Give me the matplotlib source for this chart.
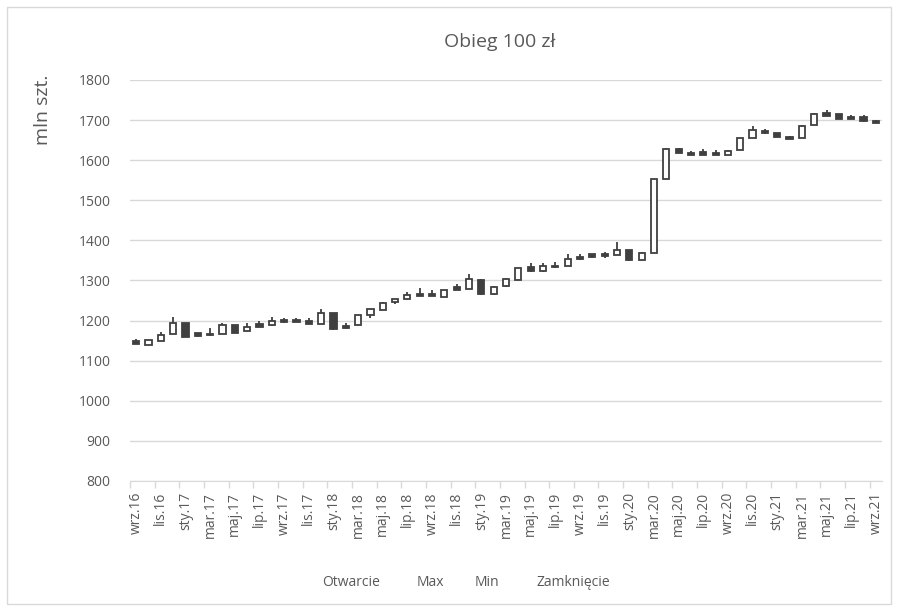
import numpy as np
import matplotlib
matplotlib.use("Agg")
import matplotlib.pyplot as plt
from matplotlib.patches import Rectangle

plt.rcParams["font.family"] = ["Open Sans", "DejaVu Sans"]
GRAY = "#595959"; INK = "#404040"; GRID = "#d9d9d9"

# monthly categories wrz.16 .. wrz.21
MONTHS = ["sty", "lut", "mar", "kwi", "maj", "cze", "lip", "sie", "wrz", "paź", "lis", "gru"]
labels = [f"{MONTHS[(8 + i) % 12]}.{16 + (8 + i) // 12}" for i in range(61)]

# mln szt.
open_ = [1148, 1140, 1150, 1167, 1193, 1168, 1167, 1166, 1189, 1175,
         1191, 1188, 1202, 1202, 1199, 1191, 1218, 1187, 1190, 1214,
         1226, 1246, 1253, 1267, 1267, 1260, 1284, 1278, 1302, 1266,
         1285, 1300, 1334, 1323, 1337, 1336, 1359, 1365, 1367, 1363,
         1375, 1352, 1369, 1554, 1629, 1618, 1620, 1619, 1614, 1626,
         1655, 1673, 1667, 1657, 1655, 1688, 1717, 1715, 1708, 1707,
         1698]
high = [1153, 1151, 1171, 1208, 1194, 1170, 1181, 1195, 1190, 1193,
        1198, 1210, 1207, 1207, 1206, 1229, 1219, 1193, 1215, 1229,
        1246, 1254, 1272, 1281, 1276, 1277, 1292, 1316, 1303, 1285,
        1305, 1332, 1343, 1344, 1345, 1366, 1366, 1367, 1371, 1396,
        1377, 1370, 1553, 1630, 1630, 1624, 1628, 1626, 1625, 1656,
        1685, 1679, 1668, 1661, 1687, 1717, 1725, 1716, 1713, 1713,
        1699]
low = [1141, 1140, 1150, 1167, 1158, 1160, 1162, 1166, 1169, 1175,
       1183, 1187, 1195, 1196, 1191, 1191, 1177, 1180, 1190, 1206,
       1226, 1242, 1253, 1261, 1261, 1260, 1276, 1278, 1265, 1265,
       1284, 1300, 1322, 1322, 1332, 1336, 1352, 1357, 1357, 1363,
       1349, 1351, 1368, 1554, 1617, 1613, 1613, 1613, 1613, 1626,
       1655, 1666, 1657, 1653, 1655, 1688, 1709, 1702, 1702, 1696,
       1692]
close = [1142, 1151, 1164, 1195, 1159, 1161, 1163, 1188, 1170, 1185,
         1184, 1198, 1196, 1197, 1192, 1218, 1178, 1181, 1214, 1228,
         1245, 1253, 1263, 1262, 1262, 1276, 1277, 1304, 1266, 1284,
         1304, 1332, 1323, 1336, 1333, 1354, 1353, 1358, 1361, 1375,
         1350, 1368, 1553, 1629, 1618, 1614, 1614, 1614, 1624, 1655,
         1675, 1667, 1658, 1654, 1686, 1716, 1710, 1703, 1703, 1697,
         1693]

fig = plt.figure(figsize=(8.98, 6.11), dpi=100)
ax = fig.add_axes([0.1448, 0.2128, 0.8374, 0.6563])

x = np.arange(len(labels))
w = 0.5
for xi, o, h, l, c in zip(x, open_, high, low, close):
    ax.vlines(xi, l, h, color=INK, lw=1.3, zorder=2)
    up = c >= o
    ax.add_patch(Rectangle((xi - w / 2, min(o, c)), w, max(abs(c - o), 1.5),
                           facecolor="white" if up else INK, edgecolor=INK,
                           lw=1.3, zorder=3))

ax.set_xlim(-0.5, len(labels) - 0.5)
ax.set_ylim(800, 1800)
ax.set_yticks(np.arange(800, 1801, 100))
ax.yaxis.grid(True, color=GRID, lw=1)
ax.set_axisbelow(True)
ax.tick_params(axis="y", length=0, labelsize=10, labelcolor=GRAY, pad=14)

ax.set_xticks(np.arange(-0.5, len(labels), 2))
ax.set_xticklabels([])
ax.tick_params(axis="x", which="major", length=5, color=GRID, width=1)
ax.set_xticks(x[::2], minor=True)
ax.set_xticklabels(labels[::2], minor=True, rotation=90, fontsize=10, color=GRAY)
ax.tick_params(axis="x", which="minor", length=0, pad=8)

for s in ["top", "right", "left"]:
    ax.spines[s].set_visible(False)
ax.spines["bottom"].set_color(GRID)

fig.text(0.557, 0.931, "Obieg 100 zł", ha="center", va="center", fontsize=14, color=GRAY)
fig.text(0.048, 0.82, "mln szt.", ha="center", va="center", rotation=90, fontsize=14, color=GRAY)
for lx, t in zip([0.391, 0.479, 0.542, 0.638], ["Otwarcie", "Max", "Min", "Zamknięcie"]):
    fig.text(lx, 0.046, t, ha="center", va="center", fontsize=10, color=GRAY)

fig.patches.append(Rectangle((0.008, 0.011), 0.984, 0.978, transform=fig.transFigure,
                             fill=False, edgecolor=GRID, lw=1))

fig.savefig("out.png", dpi=100)
